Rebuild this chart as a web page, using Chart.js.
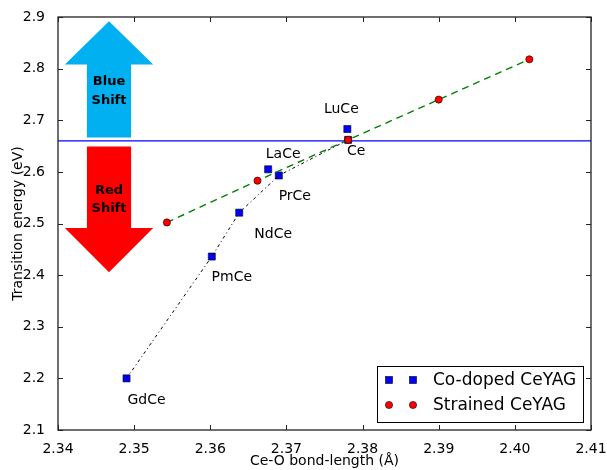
<!DOCTYPE html>
<html>
<head>
<meta charset="utf-8">
<script src="https://cdn.jsdelivr.net/npm/chart.js@4.4.0/dist/chart.umd.min.js"></script>
<style>
  html, body { margin: 0; padding: 0; background: #fff; }
  #wrap { width: 607px; height: 470px; }
</style>
</head>
<body>
<div id="wrap"><canvas id="grafico" width="607" height="470"></canvas></div>
<script>
// Dados
const codopedLabels = ['GdCe', 'PmCe', 'NdCe', 'LaCe', 'PrCe', 'LuCe', 'Ce'];
const codopedBond = [2.3490, 2.3602, 2.3638, 2.3676, 2.3690, 2.3780, 2.3781];
const codopedEnergy = [2.200, 2.436, 2.521, 2.605, 2.593, 2.683, 2.662];
const codopedTrend = ['GdCe', 'PmCe', 'NdCe', 'PrCe', 'Ce'];
const strainedBond = [2.3543, 2.3662, 2.3781, 2.3900, 2.4019];
const strainedEnergy = [2.502, 2.583, 2.662, 2.740, 2.818];
const referenceEnergy = 2.66;
const xTicks = [2.34, 2.35, 2.36, 2.37, 2.38, 2.39, 2.40, 2.41];
const yTicks = [2.1, 2.2, 2.3, 2.4, 2.5, 2.6, 2.7, 2.8, 2.9];
const seriesNames = ['Co-doped CeYAG', 'Strained CeYAG'];

const FONT = 'DejaVu Sans';

// deslocamento (px) dos rótulos em relação aos pontos
const labelOffsets = {
  GdCe: [20, 22], PmCe: [20, 21], NdCe: [34, 22], LaCe: [15, -15],
  PrCe: [16, 21], LuCe: [-6, -20], Ce: [8, 11]
};

const codopedPoints = codopedBond.map((b, i) => ({ x: b, y: codopedEnergy[i] }));
const strainedPoints = strainedBond.map((b, i) => ({ x: b, y: strainedEnergy[i] }));
const trendPoints = codopedTrend.map(n => codopedPoints[codopedLabels.indexOf(n)]);

function arrow(ctx, x, y, cx, halfShaft, halfHead, start, headBase, tip, color) {
  ctx.save();
  ctx.fillStyle = color;
  ctx.beginPath();
  ctx.moveTo(x.getPixelForValue(cx - halfShaft), y.getPixelForValue(start));
  ctx.lineTo(x.getPixelForValue(cx - halfShaft), y.getPixelForValue(headBase));
  ctx.lineTo(x.getPixelForValue(cx - halfHead), y.getPixelForValue(headBase));
  ctx.lineTo(x.getPixelForValue(cx), y.getPixelForValue(tip));
  ctx.lineTo(x.getPixelForValue(cx + halfHead), y.getPixelForValue(headBase));
  ctx.lineTo(x.getPixelForValue(cx + halfShaft), y.getPixelForValue(headBase));
  ctx.lineTo(x.getPixelForValue(cx + halfShaft), y.getPixelForValue(start));
  ctx.closePath();
  ctx.fill();
  ctx.restore();
}

function square(ctx, px, py) {
  ctx.fillStyle = '#0000ff';
  ctx.strokeStyle = '#000';
  ctx.lineWidth = 0.6;
  ctx.fillRect(px - 3.5, py - 3.5, 7, 7);
  ctx.strokeRect(px - 3.5, py - 3.5, 7, 7);
}

function circle(ctx, px, py) {
  ctx.fillStyle = '#ff0000';
  ctx.strokeStyle = '#000';
  ctx.lineWidth = 0.6;
  ctx.beginPath();
  ctx.arc(px, py, 3.6, 0, Math.PI * 2);
  ctx.fill();
  ctx.stroke();
}

const desenhos = {
  id: 'desenhos',
  beforeDatasetsDraw(chart) {
    const { ctx, chartArea: a, scales: { x, y } } = chart;
    // setas
    arrow(ctx, x, y, 2.3467, 0.0029, 0.0058, 2.6665, 2.808, 2.892, '#00b0f0');
    arrow(ctx, x, y, 2.3467, 0.0029, 0.0058, 2.649, 2.4915, 2.4054, '#ff0000');
    ctx.save();
    ctx.fillStyle = '#000';
    ctx.font = 'bold 13px ' + FONT;
    ctx.textAlign = 'center';
    ctx.textBaseline = 'middle';
    const ax = x.getPixelForValue(2.3467);
    ctx.fillText('Blue', ax, y.getPixelForValue(2.775));
    ctx.fillText('Shift', ax, y.getPixelForValue(2.738));
    ctx.fillText('Red', ax, y.getPixelForValue(2.564));
    ctx.fillText('Shift', ax, y.getPixelForValue(2.529));
    // linha de referência
    const ry = y.getPixelForValue(referenceEnergy);
    ctx.strokeStyle = '#0000ff';
    ctx.lineWidth = 1.3;
    ctx.beginPath();
    ctx.moveTo(a.left, ry);
    ctx.lineTo(a.right, ry);
    ctx.stroke();
    ctx.restore();
  },
  afterDatasetsDraw(chart) {
    const { ctx, chartArea: a, scales: { x, y } } = chart;
    ctx.save();
    // moldura e ticks internos
    ctx.strokeStyle = '#222';
    ctx.lineWidth = 1.3;
    ctx.strokeRect(a.left, a.top, a.right - a.left, a.bottom - a.top);
    ctx.lineWidth = 1;
    ctx.beginPath();
    xTicks.forEach(v => {
      const px = Math.round(x.getPixelForValue(v)) + 0.5;
      ctx.moveTo(px, a.bottom); ctx.lineTo(px, a.bottom - 5);
      ctx.moveTo(px, a.top); ctx.lineTo(px, a.top + 5);
    });
    yTicks.forEach(v => {
      const py = Math.round(y.getPixelForValue(v)) + 0.5;
      ctx.moveTo(a.left, py); ctx.lineTo(a.left + 5, py);
      ctx.moveTo(a.right, py); ctx.lineTo(a.right - 5, py);
    });
    ctx.stroke();

    // rótulos dos pontos
    ctx.fillStyle = '#000';
    ctx.font = '14px ' + FONT;
    ctx.textAlign = 'center';
    ctx.textBaseline = 'middle';
    codopedLabels.forEach((n, i) => {
      const off = labelOffsets[n];
      ctx.fillText(n, x.getPixelForValue(codopedBond[i]) + off[0], y.getPixelForValue(codopedEnergy[i]) + off[1]);
    });

    // legenda
    const lx = a.right - 214, ly = a.bottom - 64, lw = 206, lh = 56;
    ctx.fillStyle = '#fff';
    ctx.fillRect(lx, ly, lw, lh);
    ctx.strokeStyle = '#000';
    ctx.lineWidth = 1;
    ctx.strokeRect(lx + 0.5, ly + 0.5, lw, lh);
    square(ctx, lx + 12, ly + 14);
    square(ctx, lx + 36, ly + 14);
    circle(ctx, lx + 12, ly + 39);
    circle(ctx, lx + 36, ly + 39);
    ctx.fillStyle = '#000';
    ctx.font = '17px ' + FONT;
    ctx.textAlign = 'left';
    ctx.fillText(seriesNames[0], lx + 56, ly + 15);
    ctx.fillText(seriesNames[1], lx + 56, ly + 40);
    ctx.restore();
  }
};

const ctx = document.getElementById('grafico').getContext('2d');
const grafico = new Chart(ctx, {
  type: 'scatter',
  data: {
    datasets: [
      {
        label: seriesNames[1],
        data: strainedPoints,
        showLine: true,
        borderColor: '#008000',
        borderWidth: 1.4,
        borderDash: [7, 5],
        pointStyle: 'circle',
        pointRadius: 3.6,
        pointBackgroundColor: '#ff0000',
        pointBorderColor: '#000',
        pointBorderWidth: 0.6,
        order: 0
      },
      {
        label: seriesNames[0],
        data: codopedPoints,
        pointStyle: 'rect',
        pointRadius: 5,
        pointBackgroundColor: '#0000ff',
        pointBorderColor: '#000',
        pointBorderWidth: 0.6,
        order: 2
      },
      {
        label: 'trend',
        data: trendPoints,
        showLine: true,
        borderColor: '#000',
        borderWidth: 1,
        borderDash: [3, 3, 1, 3],
        pointRadius: 0,
        order: 1
      }
    ]
  },
  options: {
    responsive: false,
    animation: false,
    devicePixelRatio: 1,
    layout: { padding: { left: 0, top: 17, right: 16, bottom: 0 } },
    plugins: { legend: { display: false }, tooltip: { enabled: false } },
    scales: {
      x: {
        type: 'linear',
        min: 2.34,
        max: 2.41,
        grid: { display: false },
        border: { display: false },
        afterBuildTicks: s => { s.ticks = xTicks.map(v => ({ value: v })); },
        afterFit: s => { s.height = 40; s.paddingLeft = 0; s.paddingRight = 0; },
        ticks: {
          color: '#000',
          font: { family: FONT, size: 14 },
          padding: 3,
          maxRotation: 0,
          callback: v => v.toFixed(2)
        },
        title: {
          display: true,
          text: 'Ce-O bond-length (Å)',
          color: '#000',
          font: { family: FONT, size: 14 },
          padding: 0
        }
      },
      y: {
        type: 'linear',
        min: 2.1,
        max: 2.9,
        grid: { display: false },
        border: { display: false },
        afterBuildTicks: s => { s.ticks = yTicks.map(v => ({ value: v })); },
        afterFit: s => { s.width = 58; s.paddingTop = 0; s.paddingBottom = 0; },
        ticks: {
          color: '#000',
          font: { family: FONT, size: 14 },
          padding: 5,
          callback: v => v.toFixed(1)
        },
        title: {
          display: true,
          text: 'Transition energy (eV)',
          color: '#000',
          font: { family: FONT, size: 14 },
          padding: { top: 10, bottom: 0 }
        }
      }
    }
  },
  plugins: [desenhos]
});
</script>
</body>
</html>
